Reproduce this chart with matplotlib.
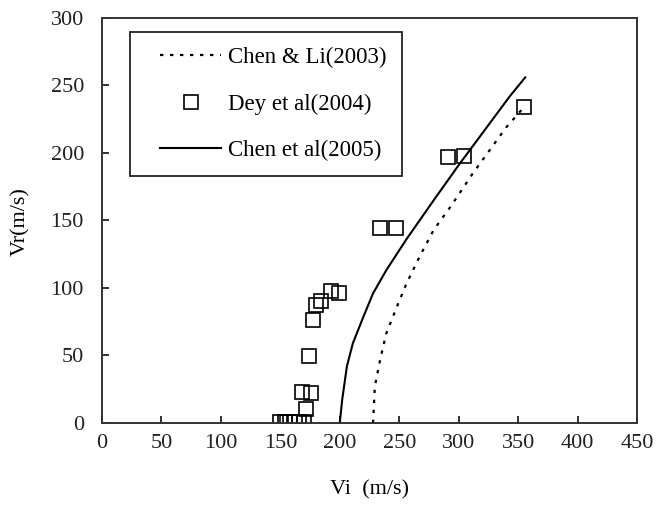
import matplotlib.pyplot as plt
from matplotlib.lines import Line2D
from matplotlib.legend_handler import HandlerLine2D

plt.rcParams['font.family'] = ['Liberation Serif', 'DejaVu Serif']

# ---------------- data ----------------
# Chen & Li (2003), dotted curve
chenli_vi = [228, 229.5, 234, 239, 248, 256, 267, 279, 293, 312, 340, 353]
chenli_vr = [0, 27, 47, 66, 86, 103, 123, 143, 160, 185, 219, 232]

# Dey et al (2004), square markers
dey_vi = [150, 154, 158, 162, 166, 170, 171.6, 168.5, 175.5, 174.4, 177.2,
          180, 184, 192.3, 199.6, 233.8, 247.3, 291, 304.5, 355]
dey_vr = [1, 1, 1, 1, 1, 1, 10.4, 23, 22, 49.6, 76.3,
          87.4, 90, 98, 96.5, 144.4, 144.4, 197, 198, 234]

# Chen et al (2005), solid curve
chen_vi = [200, 202, 206, 211, 220, 228, 239, 256, 279, 300, 343, 356]
chen_vr = [0, 17, 42, 59, 79, 96, 113, 136, 165, 191, 242, 256]

xticks = [0, 50, 100, 150, 200, 250, 300, 350, 400, 450]
yticks = [0, 50, 100, 150, 200, 250, 300]

# ---------------- plot ----------------
fig = plt.figure(figsize=(6.56, 5.31), dpi=100)
ax = fig.add_axes([0.1555, 0.2034, 0.8155, 0.7627])

ax.plot(chenli_vi, chenli_vr, color='black', linestyle=(0, (1.5, 3)), lw=1.6,
        label='Chen & Li(2003)')
ax.plot(dey_vi, dey_vr, linestyle='none', marker='s', markersize=10,
        markerfacecolor='none', markeredgecolor='black', markeredgewidth=1.2,
        label='Dey et al(2004)')
ax.plot(chen_vi, chen_vr, color='black', lw=1.5, label='Chen et al(2005)')

ax.set_xlim(0, 450)
ax.set_ylim(0, 300)
ax.set_xticks(xticks)
ax.set_yticks(yticks)
ax.tick_params(direction='in', length=5, width=1.3, labelsize=16,
               top=False, right=False, colors='#222222')
ax.tick_params(axis='x', pad=8)
ax.tick_params(axis='y', pad=13)
for s in ax.spines.values():
    s.set_linewidth(1.4)
    s.set_color('#333333')

fig.text(0.564, 0.077, 'Vi  (m/s)', ha='center', va='center', fontsize=16)
fig.text(0.032, 0.583, 'Vr(m/s)', ha='center', va='center', fontsize=16,
         rotation=90)

leg = ax.legend(loc='upper left', bbox_to_anchor=(0.052, 0.965), fontsize=16.5,
                frameon=True, fancybox=False, edgecolor='black',
                handlelength=3.35, handletextpad=0.3, labelspacing=1.1,
                borderpad=0.65, borderaxespad=0,
                handler_map={Line2D: HandlerLine2D(xpad=0.65)})
leg.get_frame().set_linewidth(1.4)

fig.savefig('out.png', dpi=100)
